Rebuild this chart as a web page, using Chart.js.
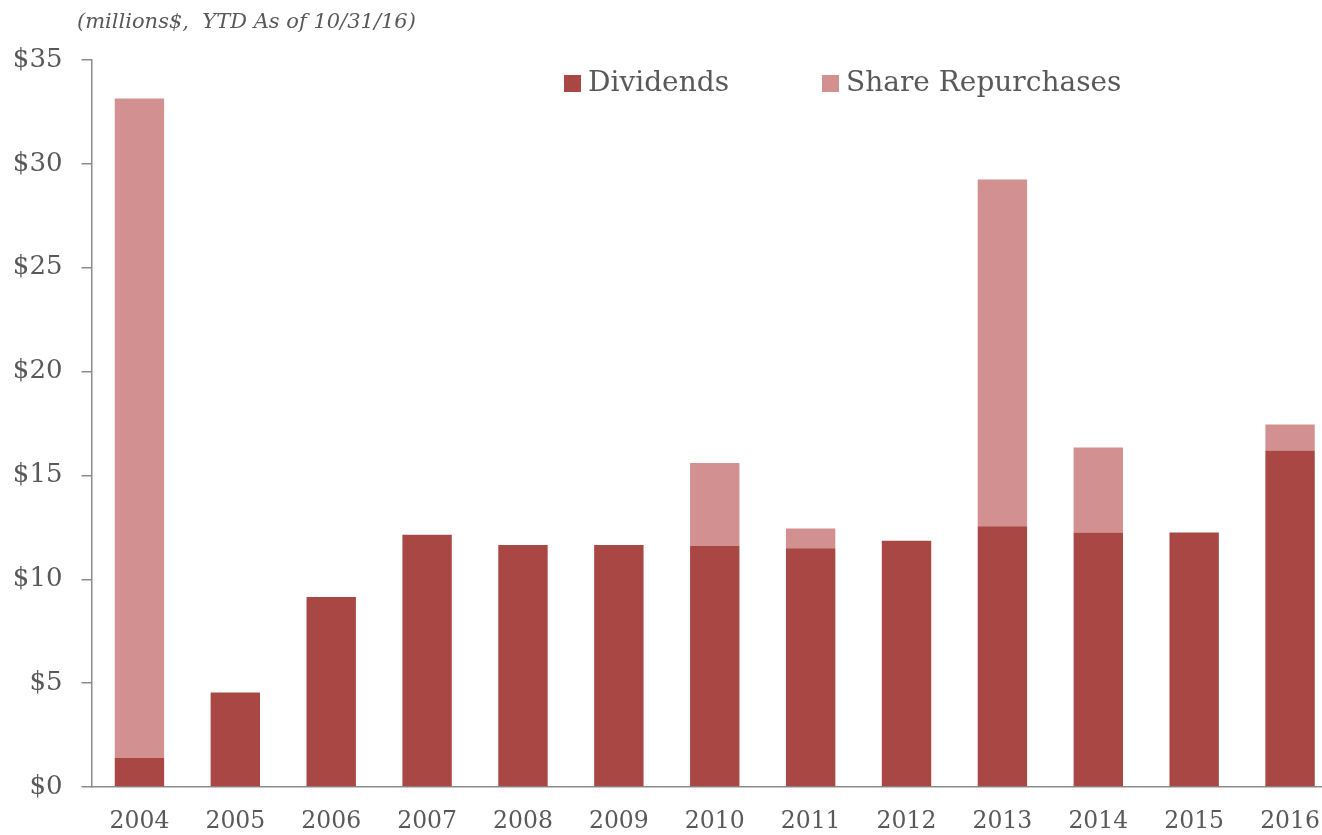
<!DOCTYPE html>
<html>
<head>
  <meta charset="utf-8">
  <title>Dividends and Share Repurchases</title>
  <script src="https://cdn.jsdelivr.net/npm/chart.js"></script>
  <style>
    html, body {
      margin: 0;
      padding: 0;
      background: #fff;
      overflow: hidden;
    }
    .chart-box {
      width: 1345px;
      height: 835px;
    }
  </style>
</head>
<body>
<div class="chart-box">
  <canvas id="payoutChart"></canvas>
</div>

<script>
  // ----- data -----
  const years = ["2004", "2005", "2006", "2007", "2008", "2009", "2010",
                 "2011", "2012", "2013", "2014", "2015", "2016"];
  const dividends   = [1.4, 4.55, 9.15, 12.15, 11.65, 11.65, 11.6, 11.5, 11.85, 12.55, 12.25, 12.25, 16.2];
  const repurchases = [31.75, 0, 0, 0, 0, 0, 4.0, 0.95, 0, 16.7, 4.1, 0, 1.25];
  const yTicks = [0, 5, 10, 15, 20, 25, 30, 35];

  const textGray = '#595959';
  const lineGray = '#8c8c8c';
  const serif = '"DejaVu Serif", "Liberation Serif", serif';

  // legend and note sit on top of the plot area, so move them after layout
  const placeBlocks = {
    id: 'placeBlocks',
    beforeLayout(chart) {
      const lg = chart.legend;
      if (lg && !lg._patched) {
        const fit = lg.fit.bind(lg);
        lg.fit = function() {
          fit();
          this._realH = this.height;
          this.height = 0;
        };
        lg._patched = true;
      }
    },
    afterLayout(chart) {
      const lg = chart.legend;
      const pad = lg.options.labels.padding;
      lg.left = 571 - pad;
      lg.right = lg.left + 760;
      lg.width = 760;
      lg.top = 69.5 - pad;
      lg.height = (lg._realH || 40) + 10;
      lg.bottom = lg.top + lg.height;
      const tb = chart.titleBlock;
      tb.left = 77;
      tb.right = tb.left + 600;
      tb.width = 600;
    }
  };

  const ctx = document.getElementById('payoutChart').getContext('2d');
  const payoutChart = new Chart(ctx, {
    type: 'bar',
    data: {
      labels: years,
      datasets: [
        {
          label: 'Dividends',
          data: dividends,
          backgroundColor: '#a94744',
          barPercentage: 0.515,
          categoryPercentage: 1.0
        },
        {
          label: 'Share Repurchases',
          data: repurchases,
          backgroundColor: '#d39090',
          barPercentage: 0.515,
          categoryPercentage: 1.0
        }
      ]
    },
    options: {
      responsive: true,
      maintainAspectRatio: false,
      animation: false,
      layout: {
        padding: { left: 0, right: 7, top: 0, bottom: 0 }
      },
      plugins: {
        title: {
          display: true,
          text: '(millions$,  YTD As of 10/31/16)',
          align: 'start',
          color: textGray,
          font: { family: serif, size: 21, style: 'italic', weight: 'normal' },
          padding: { top: 10, bottom: 24.8 }
        },
        legend: {
          display: true,
          position: 'top',
          align: 'start',
          labels: {
            color: textGray,
            font: { family: serif, size: 28 },
            usePointStyle: true,
            pointStyle: 'rect',
            boxWidth: 3,
            boxHeight: 17,
            padding: 100
          }
        },
        tooltip: { enabled: false }
      },
      scales: {
        x: {
          stacked: true,
          grid: { display: false, drawTicks: false },
          border: { display: true, color: lineGray, width: 1.5 },
          ticks: {
            color: textGray,
            font: { family: serif, size: 23.5 },
            padding: 21,
            maxRotation: 0
          },
          afterFit(scale) { scale.height = 48; }
        },
        y: {
          stacked: true,
          min: 0,
          max: 35,
          afterBuildTicks(scale) {
            scale.ticks = yTicks.map(v => ({ value: v }));
          },
          grid: {
            drawOnChartArea: false,
            drawTicks: true,
            tickLength: 10,
            color: lineGray,
            lineWidth: 1.5
          },
          border: { display: true, color: lineGray, width: 1.5 },
          ticks: {
            color: textGray,
            font: { family: serif, size: 26 },
            padding: 19,
            callback: function(value) { return '$' + value; }
          },
          afterFit(scale) { scale.width = 91.5; }
        }
      }
    },
    plugins: [placeBlocks]
  });
</script>
</body>
</html>
